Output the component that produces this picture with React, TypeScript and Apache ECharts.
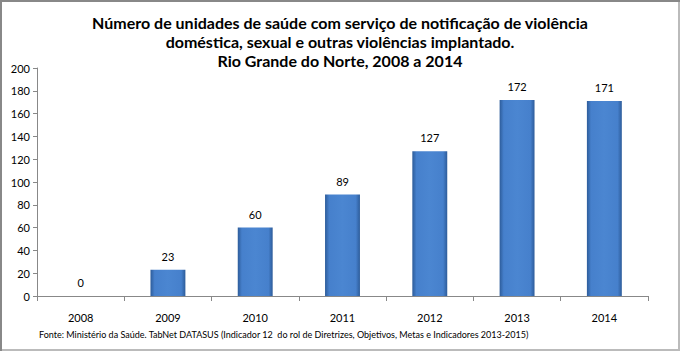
import React, { useEffect, useRef } from "react";
import * as echarts from "echarts";

const categories = ["2008", "2009", "2010", "2011", "2012", "2013", "2014"];
const values = [0, 23, 60, 89, 127, 172, 171];
const yMax = 200;
const yInterval = 20;
const titleText =
  "Número de unidades de saúde com serviço de notificação de violência\ndoméstica, sexual e outras violências implantado.\nRio Grande do Norte, 2008 a 2014";
const sourceText =
  "Fonte: Ministério da Saúde. TabNet DATASUS (Indicador 12  do rol de Diretrizes, Objetivos, Metas e Indicadores 2013-2015)";

export default function App() {
  const ref = useRef<HTMLDivElement>(null);
  useEffect(() => {
    document.body.style.margin = "0";
    const chart = echarts.init(ref.current!, null, { renderer: "svg" });
    const font = "Lato, 'Open Sans', sans-serif";
    chart.setOption({
      animation: false,
      backgroundColor: "#ffffff",
      textStyle: { fontFamily: font },
      title: {
        text: titleText,
        left: "center",
        top: 8,
        textStyle: {
          fontFamily: font,
          fontSize: 16,
          fontWeight: "bold",
          color: "#000000",
          lineHeight: 19,
        },
      },
      grid: { left: 37, right: 32, top: 68, bottom: 55, containLabel: false },
      xAxis: {
        type: "category",
        data: categories,
        axisLine: { lineStyle: { color: "#888888", width: 1 } },
        axisTick: { show: true, length: 5, lineStyle: { color: "#888888" } },
        axisLabel: { color: "#000000", fontSize: 11, margin: 16, fontFamily: font },
      },
      yAxis: {
        type: "value",
        min: 0,
        max: yMax,
        interval: yInterval,
        splitLine: { show: false },
        axisLine: { show: true, lineStyle: { color: "#888888", width: 1 } },
        axisTick: { show: true, length: 4, lineStyle: { color: "#888888" } },
        axisLabel: { color: "#000000", fontSize: 11, margin: 7, fontFamily: font },
      },
      series: [
        {
          type: "bar",
          data: values,
          barWidth: "40%",
          itemStyle: {
            color: new echarts.graphic.LinearGradient(0, 0, 1, 0, [
              { offset: 0, color: "#2d5c9a" },
              { offset: 0.12, color: "#4680cc" },
              { offset: 0.5, color: "#4b86d1" },
              { offset: 0.88, color: "#4680cc" },
              { offset: 1, color: "#2d5c9a" },
            ]),
            borderWidth: 0,
          },
          label: {
            show: true,
            position: "top",
            distance: 8,
            color: "#000000",
            fontSize: 11,
            fontFamily: font,
          },
        },
      ],
      graphic: [
        {
          type: "text",
          left: 39,
          top: 330,
          style: {
            text: sourceText,
            fontSize: 9,
            fontFamily: font,
            fill: "#000000",
          },
        },
        {
          type: "line",
          shape: { x1: 679, y1: 0, x2: 679, y2: 351 },
          style: { stroke: "#bbbbbb", lineWidth: 2 },
          silent: true,
        },
        {
          type: "line",
          shape: { x1: 0, y1: 350, x2: 680, y2: 350 },
          style: { stroke: "#bbbbbb", lineWidth: 2 },
          silent: true,
        },
        {
          type: "line",
          shape: { x1: 1, y1: 0, x2: 1, y2: 351 },
          style: { stroke: "#888888", lineWidth: 2 },
          silent: true,
        },
        {
          type: "line",
          shape: { x1: 0, y1: 1, x2: 680, y2: 1 },
          style: { stroke: "#888888", lineWidth: 2 },
          silent: true,
        },
      ],
    });
    return () => chart.dispose();
  }, []);
  return (
    <div
      ref={ref}
      style={{ position: "absolute", left: 0, top: 0, width: 680, height: 351 }}
    />
  );
}
